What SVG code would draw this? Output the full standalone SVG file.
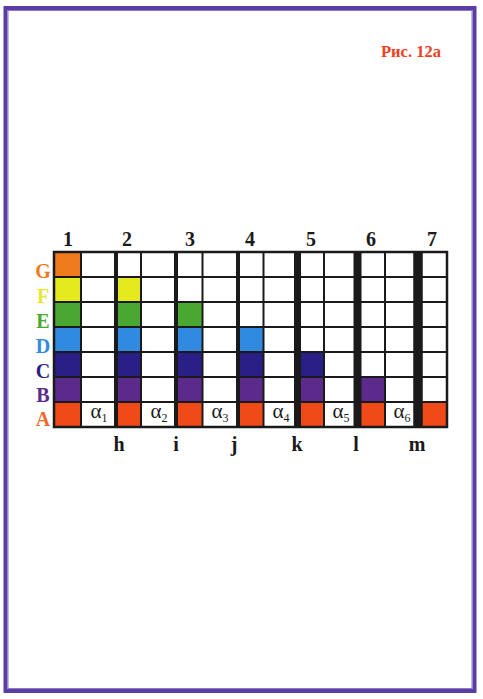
<svg xmlns="http://www.w3.org/2000/svg" width="483" height="699" viewBox="0 0 483 699">
<style>
.num{font-family:"Liberation Serif",serif;font-weight:bold;font-size:20px;text-anchor:middle;fill:#1a1a1a}
.row{font-family:"Liberation Serif",serif;font-weight:bold;font-size:20px;text-anchor:middle}
.al{font-family:"Liberation Serif",serif;font-size:21px;text-anchor:middle;fill:#1a1a1a}
.al tspan{font-size:12px}
.ln{stroke:#1a1a1a;fill:none}
.cG{fill:#f07a1e}.cF{fill:#e4ea1e}.cE{fill:#4aa832}.cD{fill:#2f8ae0}.cC{fill:#2a1f86}.cB{fill:#5c2a8a}.cA{fill:#f04a18}
</style>
<rect x="0" y="0" width="483" height="699" fill="#ffffff"/>
<g id="frame">
<rect x="5.5" y="8" width="469" height="683" fill="none" stroke="#5a3ea6" stroke-width="4"/>
<rect x="8" y="10.5" width="464" height="678" fill="none" stroke="#8a78c8" stroke-width="1"/>
</g>
<text id="title" x="411" y="57" font-family="Liberation Serif,serif" font-weight="bold" font-size="16.5" fill="#f04020" text-anchor="middle">Рис. 12а</text>
<g id="cells">
<rect x="54" y="252" width="393" height="175" fill="#ffffff"/>
<rect class="cG" x="54" y="252" width="27" height="25"/>
<rect class="cF" x="54" y="277" width="27" height="25"/>
<rect class="cE" x="54" y="302" width="27" height="25"/>
<rect class="cD" x="54" y="327" width="27" height="25"/>
<rect class="cC" x="54" y="352" width="27" height="25"/>
<rect class="cB" x="54" y="377" width="27" height="25"/>
<rect class="cA" x="54" y="402" width="27" height="25"/>
<rect class="cF" x="116" y="277" width="25" height="25"/>
<rect class="cE" x="116" y="302" width="25" height="25"/>
<rect class="cD" x="116" y="327" width="25" height="25"/>
<rect class="cC" x="116" y="352" width="25" height="25"/>
<rect class="cB" x="116" y="377" width="25" height="25"/>
<rect class="cA" x="116" y="402" width="25" height="25"/>
<rect class="cE" x="176" y="302" width="26.5" height="25"/>
<rect class="cD" x="176" y="327" width="26.5" height="25"/>
<rect class="cC" x="176" y="352" width="26.5" height="25"/>
<rect class="cB" x="176" y="377" width="26.5" height="25"/>
<rect class="cA" x="176" y="402" width="26.5" height="25"/>
<rect class="cD" x="238" y="327" width="25.5" height="25"/>
<rect class="cC" x="238" y="352" width="25.5" height="25"/>
<rect class="cB" x="238" y="377" width="25.5" height="25"/>
<rect class="cA" x="238" y="402" width="25.5" height="25"/>
<rect class="cC" x="297.5" y="352" width="26.5" height="25"/>
<rect class="cB" x="297.5" y="377" width="26.5" height="25"/>
<rect class="cA" x="297.5" y="402" width="26.5" height="25"/>
<rect class="cB" x="357.5" y="377" width="27.5" height="25"/>
<rect class="cA" x="357.5" y="402" width="27.5" height="25"/>
<rect class="cA" x="418" y="402" width="29" height="25"/>
</g>
<g id="gridlines" class="ln">
<line x1="54" y1="277" x2="447" y2="277" stroke-width="2"/>
<line x1="54" y1="302" x2="447" y2="302" stroke-width="2"/>
<line x1="54" y1="327" x2="447" y2="327" stroke-width="2"/>
<line x1="54" y1="352" x2="447" y2="352" stroke-width="2"/>
<line x1="54" y1="377" x2="447" y2="377" stroke-width="2"/>
<line x1="54" y1="402" x2="447" y2="402" stroke-width="2"/>
<line x1="81" y1="252" x2="81" y2="427" stroke-width="2"/>
<line x1="116" y1="252" x2="116" y2="427" stroke-width="4"/>
<line x1="141" y1="252" x2="141" y2="427" stroke-width="2"/>
<line x1="176" y1="252" x2="176" y2="427" stroke-width="4"/>
<line x1="202.5" y1="252" x2="202.5" y2="427" stroke-width="2"/>
<line x1="238" y1="252" x2="238" y2="427" stroke-width="4"/>
<line x1="263.5" y1="252" x2="263.5" y2="427" stroke-width="2"/>
<line x1="297.5" y1="252" x2="297.5" y2="427" stroke-width="7"/>
<line x1="324" y1="252" x2="324" y2="427" stroke-width="2"/>
<line x1="357.5" y1="252" x2="357.5" y2="427" stroke-width="8"/>
<line x1="385" y1="252" x2="385" y2="427" stroke-width="2"/>
<line x1="418" y1="252" x2="418" y2="427" stroke-width="9.5"/>
<rect x="54" y="252" width="393" height="175" stroke-width="2.5"/>
</g>
<g id="column-numbers">
<text class="num" x="68" y="246">1</text>
<text class="num" x="127" y="246">2</text>
<text class="num" x="190" y="246">3</text>
<text class="num" x="250" y="246">4</text>
<text class="num" x="311" y="246">5</text>
<text class="num" x="371" y="246">6</text>
<text class="num" x="432" y="246">7</text>
</g>
<g id="row-letters">
<text class="row" x="43" y="278" fill="#f07a1e">G</text>
<text class="row" x="43" y="303" fill="#e4e830">F</text>
<text class="row" x="43" y="328" fill="#4aa832">E</text>
<text class="row" x="43" y="353" fill="#2f8ae0">D</text>
<text class="row" x="43" y="378" fill="#2a1f86">C</text>
<text class="row" x="43" y="402" fill="#5c2a8a">B</text>
<text class="row" x="43" y="426" fill="#f06a30">A</text>
</g>
<g id="alpha-labels">
<text class="al" x="99" y="418">α<tspan dy="4">1</tspan></text>
<text class="al" x="159" y="418">α<tspan dy="4">2</tspan></text>
<text class="al" x="220" y="418">α<tspan dy="4">3</tspan></text>
<text class="al" x="281" y="418">α<tspan dy="4">4</tspan></text>
<text class="al" x="341" y="418">α<tspan dy="4">5</tspan></text>
<text class="al" x="402" y="418">α<tspan dy="4">6</tspan></text>
</g>
<g id="bottom-labels">
<text class="num" x="119" y="451">h</text>
<text class="num" x="176" y="451">i</text>
<text class="num" x="234" y="451">j</text>
<text class="num" x="297" y="451">k</text>
<text class="num" x="356" y="451">l</text>
<text class="num" x="417" y="451">m</text>
</g>
</svg>
